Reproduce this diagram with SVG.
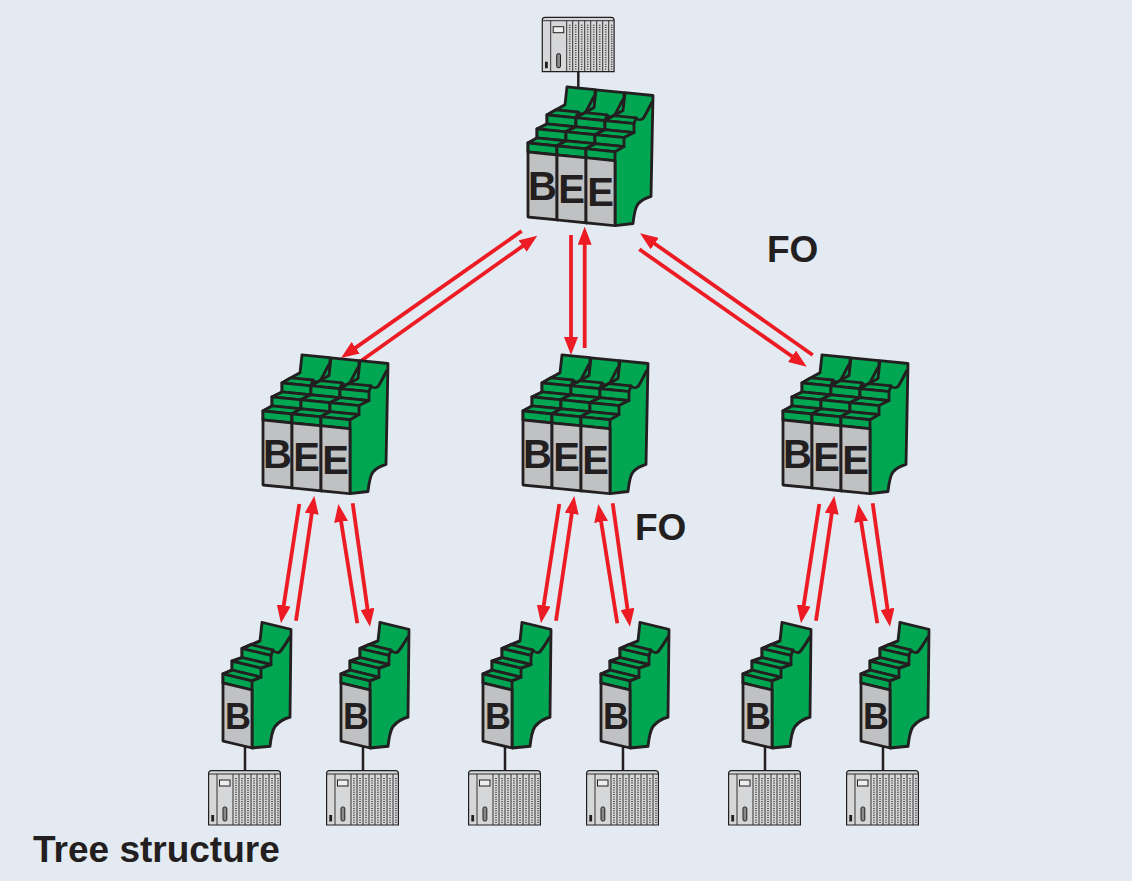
<svg xmlns="http://www.w3.org/2000/svg" xmlns:xlink="http://www.w3.org/1999/xlink" width="1134" height="883" viewBox="0 0 1134 883">
<style>
.g{fill:#00a651;stroke:#231f20;stroke-width:2.8;stroke-linejoin:round}
.gr{fill:#bfc1c3;stroke:#231f20;stroke-width:2.8;stroke-linejoin:round}
.ln{fill:none;stroke:#231f20;stroke-width:2.8;stroke-linecap:round}
.lt{font-family:"Liberation Sans",Arial,sans-serif;font-weight:bold;fill:#231f20;text-anchor:middle}
.lbl{font-family:"Liberation Sans",Arial,sans-serif;font-weight:bold;fill:#231f20;font-size:37px}
.arr line{stroke:#ed1c24;stroke-width:3.8;fill:none;marker-end:url(#ah)}
.cab line{stroke:#231f20;stroke-width:2.5}
</style>
<defs>
<marker id="ah" viewBox="0 0 18 14" refX="6" refY="7" markerWidth="18" markerHeight="14" markerUnits="userSpaceOnUse" orient="auto">
<path d="M0,0 L18,7 L0,14 Z" fill="#ed1c24"/>
</marker>
<g id="colS">
<path class="g" d="M29,58 L47,52 C48,43 49,36 52,31 C56,25 61,21 67,18 L68,-70 L39,-70 L37,-51 L28,-45 L19,-39 L19,-30 L9,-24 L9,-15 L0,-9 L0,0 L29,0 Z"/>
<path class="ln" d="M50,-45 C52,-43 55,-43 57,-45 C60,-49 64,-57 67,-62"/>
<path class="g" d="M19,-39 L28,-45 L50,-45 L48,-39 Z"/>
<path class="g" d="M19,-39 H48 V-30 H19 Z"/>
<path class="g" d="M9,-24 L19,-30 H48 L38,-24 Z"/>
<path class="g" d="M9,-24 H38 V-15 H9 Z"/>
<path class="g" d="M0,-9 L9,-15 H38 L29,-9 Z"/>
<path class="g" d="M0,-9 H29 V0 H0 Z"/>
<path class="gr" d="M0,0 H29 V58 H0 Z"/>
</g>
<g id="colB">
<path class="g" d="M29,65 L47,61 C48,52 49,45 52,41 C56,36 60,34 65,32 L67,-69 L39,-69 L37,-51 L28,-45 L19,-39 L19,-30 L9,-24 L9,-15 L0,-9 L0,0 L29,0 Z"/>
<path class="ln" d="M50,-45 C52,-43 55,-43 57,-45 C60,-49 63,-57 66,-62"/>
<path class="g" d="M19,-39 L28,-45 L50,-45 L48,-39 Z"/>
<path class="g" d="M19,-39 H48 V-30 H19 Z"/>
<path class="g" d="M9,-24 L19,-30 H48 L38,-24 Z"/>
<path class="g" d="M9,-24 H38 V-15 H9 Z"/>
<path class="g" d="M0,-9 L9,-15 H38 L29,-9 Z"/>
<path class="g" d="M0,-9 H29 V0 H0 Z"/>
<path class="gr" d="M0,0 H29 V65 H0 Z"/>
</g>
<g id="rackShape">
<path d="M0.6,55 V3.5 Q0.6,0.6 3.5,0.6 H69.5 Q72.4,0.6 72.4,3.5 V55 Z" fill="#d6d7d9" stroke="#231f20" stroke-width="1.2"/>
<path d="M0.6,4 H72.4 M9,4 V55 M25,4 V55 M31,4 V55 M37,4 V55 M43,4 V55 M49,4 V55 M55,4 V55 M61,4 V55 M67,4 V55" stroke="#231f20" stroke-width="0.9" fill="none"/>
<path d="M28,8 V53 M34,8 V53 M40,8 V53 M46,8 V53 M52,8 V53 M58,8 V53 M64,8 V53 M70,8 V53" stroke="#3a3a3a" stroke-width="1.6" stroke-dasharray="1 1.3" fill="none"/>
<rect x="11.5" y="10" width="10.5" height="6" fill="#eeeeee" stroke="#231f20" stroke-width="1"/>
<rect x="15" y="37" width="3.8" height="14" rx="1.5" fill="#8a8a8a" stroke="#231f20" stroke-width="1"/>
<rect x="3.3" y="45" width="2.8" height="6.5" fill="#231f20"/>
</g>
</defs>

<rect x="0" y="0" width="1134" height="883" fill="#ffffff"/>
<rect x="0" y="0" width="1132" height="881" fill="#e3eaf1"/>

<g id="connectors">
<g class="cab">
<line x1="578.3" y1="71" x2="578.3" y2="95"/>
<line x1="245" y1="740" x2="245" y2="771"/>
<line x1="363" y1="740" x2="363" y2="771"/>
<line x1="505" y1="740" x2="505" y2="771"/>
<line x1="623" y1="740" x2="623" y2="771"/>
<line x1="765" y1="740" x2="765" y2="771"/>
<line x1="883" y1="740" x2="883" y2="771"/>
</g>
<g class="arr">
<line x1="521.7" y1="231" x2="350.8" y2="351.1"/>
<line x1="356.7" y1="364" x2="527.5" y2="242.6"/>
<line x1="571" y1="235" x2="571" y2="343"/>
<line x1="584.7" y1="348" x2="584.7" y2="238.7"/>
<line x1="812.7" y1="355" x2="649.8" y2="240.2"/>
<line x1="639.3" y1="249.3" x2="796.9" y2="359.8"/>
<line x1="299.3" y1="504" x2="282.8" y2="611.4"/>
<line x1="296" y1="620.7" x2="312.6" y2="507.9"/>
<line x1="357.3" y1="623.3" x2="340.2" y2="515.9"/>
<line x1="352.7" y1="503.3" x2="368.3" y2="614.8"/>
<line x1="559.3" y1="504" x2="542.8" y2="611.4"/>
<line x1="556" y1="620.7" x2="572.6" y2="507.9"/>
<line x1="617.3" y1="623.3" x2="600.2" y2="515.9"/>
<line x1="612.7" y1="503.3" x2="628.3" y2="614.8"/>
<line x1="819.3" y1="504" x2="802.8" y2="611.4"/>
<line x1="816" y1="620.7" x2="832.6" y2="507.9"/>
<line x1="877.3" y1="623.3" x2="860.2" y2="515.9"/>
<line x1="872.7" y1="503.3" x2="888.3" y2="614.8"/>
</g>
</g>

<g id="plc-top"><use xlink:href="#rackShape" transform="translate(541.7,16.7)"/></g>
<g id="plc-1"><use xlink:href="#rackShape" transform="translate(208,770)"/></g>
<g id="plc-2"><use xlink:href="#rackShape" transform="translate(326,770)"/></g>
<g id="plc-3"><use xlink:href="#rackShape" transform="translate(468,770)"/></g>
<g id="plc-4"><use xlink:href="#rackShape" transform="translate(586,770)"/></g>
<g id="plc-5"><use xlink:href="#rackShape" transform="translate(728,770)"/></g>
<g id="plc-6"><use xlink:href="#rackShape" transform="translate(846,770)"/></g>

<g id="module-top" transform="translate(528,152)">
<g transform="skewY(5.71)"><use xlink:href="#colB"/><use xlink:href="#colB" x="29"/><use xlink:href="#colB" x="58"/></g>
<text class="lt" font-size="40" x="14.5" y="48">B</text>
<text class="lt" font-size="40" x="43.5" y="50.9">E</text>
<text class="lt" font-size="40" x="72.5" y="53.8">E</text>
</g>
<g id="module-mid-left" transform="translate(263,420)">
<g transform="skewY(5.71)"><use xlink:href="#colB"/><use xlink:href="#colB" x="29"/><use xlink:href="#colB" x="58"/></g>
<text class="lt" font-size="40" x="14.5" y="48">B</text>
<text class="lt" font-size="40" x="43.5" y="50.9">E</text>
<text class="lt" font-size="40" x="72.5" y="53.8">E</text>
</g>
<g id="module-mid-center" transform="translate(523,420)">
<g transform="skewY(5.71)"><use xlink:href="#colB"/><use xlink:href="#colB" x="29"/><use xlink:href="#colB" x="58"/></g>
<text class="lt" font-size="40" x="14.5" y="48">B</text>
<text class="lt" font-size="40" x="43.5" y="50.9">E</text>
<text class="lt" font-size="40" x="72.5" y="53.8">E</text>
</g>
<g id="module-mid-right" transform="translate(783,420)">
<g transform="skewY(5.71)"><use xlink:href="#colB"/><use xlink:href="#colB" x="29"/><use xlink:href="#colB" x="58"/></g>
<text class="lt" font-size="40" x="14.5" y="48">B</text>
<text class="lt" font-size="40" x="43.5" y="50.9">E</text>
<text class="lt" font-size="40" x="72.5" y="53.8">E</text>
</g>

<g id="module-b1" transform="translate(223,683)"><g transform="skewY(13.5)"><use xlink:href="#colS"/></g><text class="lt" font-size="36" x="15" y="46">B</text></g>
<g id="module-b2" transform="translate(341,683)"><g transform="skewY(13.5)"><use xlink:href="#colS"/></g><text class="lt" font-size="36" x="15" y="46">B</text></g>
<g id="module-b3" transform="translate(483,683)"><g transform="skewY(13.5)"><use xlink:href="#colS"/></g><text class="lt" font-size="36" x="15" y="46">B</text></g>
<g id="module-b4" transform="translate(601,683)"><g transform="skewY(13.5)"><use xlink:href="#colS"/></g><text class="lt" font-size="36" x="15" y="46">B</text></g>
<g id="module-b5" transform="translate(743,683)"><g transform="skewY(13.5)"><use xlink:href="#colS"/></g><text class="lt" font-size="36" x="15" y="46">B</text></g>
<g id="module-b6" transform="translate(861,683)"><g transform="skewY(13.5)"><use xlink:href="#colS"/></g><text class="lt" font-size="36" x="15" y="46">B</text></g>

<g id="labels">
<text class="lbl" x="767" y="262">FO</text>
<text class="lbl" x="635" y="540">FO</text>
<text class="lbl" x="33" y="862">Tree structure</text>
</g>
</svg>
